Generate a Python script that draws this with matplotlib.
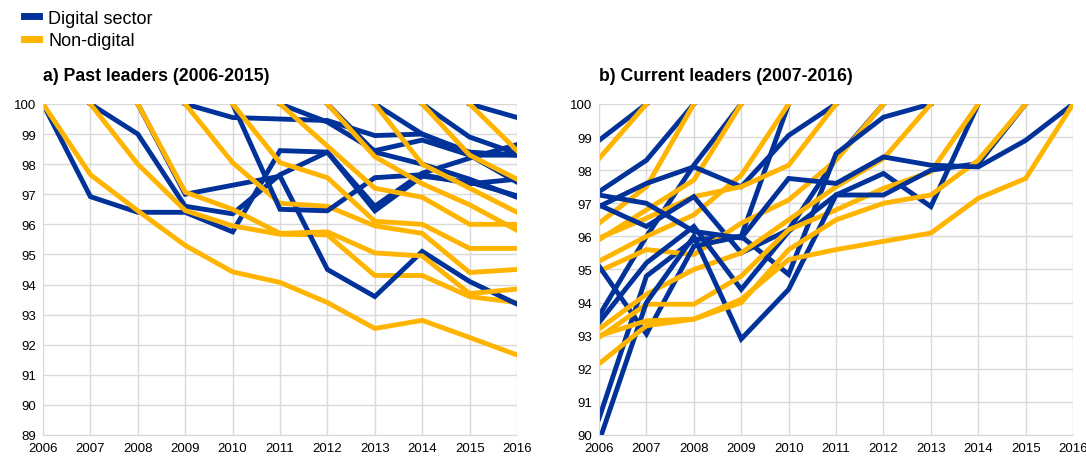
import numpy as np
import matplotlib.pyplot as plt

plt.rcParams['font.family'] = ['Liberation Sans', 'DejaVu Sans']

years = list(range(2006, 2017))
nan = np.nan
BLUE = '#003299'
YELLOW = '#ffb400'

# a) past leaders: each cohort is 100 in its leader year
past_digital = [
    [100, 96.92, 96.4, 96.4, 95.75, 98.45, 98.4, 96.6, 97.7, 98.2, 98.65],
    [nan, 100, 99.0, 96.6, 96.35, 97.65, 98.4, 96.45, 97.6, 97.4, 96.95],
    [nan, nan, 100, 97.0, 97.3, 97.6, 94.5, 93.6, 95.1, 94.1, 93.35],
    [nan, nan, nan, 100, 99.55, 99.5, 99.45, 98.95, 99.0, 98.4, 98.3],
    [nan, nan, nan, nan, 100, 96.5, 96.45, 97.55, 97.65, 97.35, 97.5],
    [nan, nan, nan, nan, nan, 100, 99.4, 98.45, 98.8, 98.3, 97.4],
    [nan, nan, nan, nan, nan, nan, 100, 98.4, 98.0, 97.5, 96.9],
    [nan, nan, nan, nan, nan, nan, nan, 100, 99.0, 98.3, 98.3],
    [nan, nan, nan, nan, nan, nan, nan, nan, 100, 98.9, 98.35],
    [nan, nan, nan, nan, nan, nan, nan, nan, nan, 100, 99.55],
]
past_nondigital = [
    [100, 97.65, 96.45, 95.3, 94.42, 94.07, 93.4, 92.54, 92.81, 92.24, 91.66],
    [nan, 100, 98.0, 96.46, 95.95, 95.67, 95.65, 94.3, 94.3, 93.6, 93.4],
    [nan, nan, 100, 97.07, 96.5, 95.7, 95.75, 95.05, 94.95, 93.7, 93.85],
    [nan, nan, nan, 100, 98.05, 96.7, 96.6, 95.95, 95.7, 94.4, 94.5],
    [nan, nan, nan, nan, 100, 98.05, 97.55, 96.1, 96.0, 95.2, 95.2],
    [nan, nan, nan, nan, nan, 100, 98.6, 97.2, 96.9, 96.0, 96.0],
    [nan, nan, nan, nan, nan, nan, 100, 98.25, 97.35, 96.65, 95.8],
    [nan, nan, nan, nan, nan, nan, nan, 100, 98.0, 97.2, 96.4],
    [nan, nan, nan, nan, nan, nan, nan, nan, 100, 98.3, 97.5],
    [nan, nan, nan, nan, nan, nan, nan, nan, nan, 100, 98.45],
]

# b) current leaders: each cohort reaches 100 in its leader year
curr_digital = [
    [98.9, 100],
    [97.35, 98.3, 100],
    [93.6, 96.0, 98.15, 100],
    [90.5, 94.8, 95.9, 96.0, 100],
    [96.9, 97.6, 98.1, 97.5, 99.05, 100],
    [96.95, 96.3, 97.2, 95.5, 96.2, 98.35, 100],
    [95.1, 93.05, 95.7, 96.0, 94.85, 98.5, 99.6, 100],
    [93.4, 95.2, 96.3, 94.4, 96.15, 97.25, 97.9, 96.9, 100],
    [89.8, 94.0, 96.0, 92.9, 94.4, 97.25, 97.25, 98.0, 98.2, 100],
    [97.25, 97.0, 96.15, 95.95, 97.75, 97.6, 98.4, 98.15, 98.1, 98.9, 100],
]
curr_nondigital = [
    [98.35, 100],
    [96.4, 97.5, 100],
    [95.9, 96.8, 97.7, 100],
    [95.25, 96.0, 96.65, 97.85, 100],
    [95.95, 96.55, 97.2, 97.5, 98.15, 100],
    [94.95, 95.6, 95.45, 96.4, 97.1, 98.3, 100],
    [93.2, 94.25, 95.0, 95.5, 96.5, 97.5, 98.35, 100],
    [92.95, 93.95, 93.95, 94.8, 96.2, 96.8, 97.45, 97.95, 100],
    [93.0, 93.45, 93.5, 94.0, 95.6, 96.5, 97.0, 97.25, 98.3, 100],
    [92.15, 93.3, 93.5, 94.1, 95.3, 95.6, 95.85, 96.1, 97.15, 97.75, 100],
]

fig = plt.figure(figsize=(10.86, 4.6), dpi=100)
ax1 = fig.add_axes([0.0396, 0.0522, 0.4365, 0.7196])
ax2 = fig.add_axes([0.5516, 0.0522, 0.4365, 0.7196])

for d, n in zip(past_digital, past_nondigital):
    ax1.plot(years, d, color=BLUE, lw=3.5, solid_joinstyle='miter')
    ax1.plot(years, n, color=YELLOW, lw=3.5, solid_joinstyle='miter')

for d, n in zip(curr_digital, curr_nondigital):
    ax2.plot(years[:len(d)], d, color=BLUE, lw=3.5, solid_joinstyle='miter')
    ax2.plot(years[:len(n)], n, color=YELLOW, lw=3.5, solid_joinstyle='miter')

ax1.set_ylim(89, 100)
ax2.set_ylim(90, 100)
for ax, lo in [(ax1, 89), (ax2, 90)]:
    ax.set_xlim(2006, 2016)
    ax.set_xticks(years)
    ax.set_yticks(range(lo, 101))
    ax.grid(True, color='#d9d9d9', linewidth=1)
    ax.set_axisbelow(True)
    for s in ['top', 'right']:
        ax.spines[s].set_visible(False)
    for s in ['left', 'bottom']:
        ax.spines[s].set_color('#d9d9d9')
    ax.tick_params(axis='y', length=0, labelsize=9.5, pad=5)
    ax.tick_params(axis='x', length=0, labelsize=9.5, pad=5)

fig.text(0.0396, 0.833, 'a) Past leaders (2006-2015)', fontsize=12.7, fontweight='bold', va='center')
fig.text(0.5516, 0.833, 'b) Current leaders (2007-2016)', fontsize=12.7, fontweight='bold', va='center')

h1, = ax1.plot([], [], color=BLUE, lw=5)
h2, = ax1.plot([], [], color=YELLOW, lw=5)
fig.legend([h1, h2], ['Digital sector', 'Non-digital'], loc='upper left',
           bbox_to_anchor=(0.007, 1.012), frameon=False, fontsize=13,
           handlelength=0.85, handletextpad=0.5, labelspacing=0.3)

fig.savefig('out.png', dpi=100)
